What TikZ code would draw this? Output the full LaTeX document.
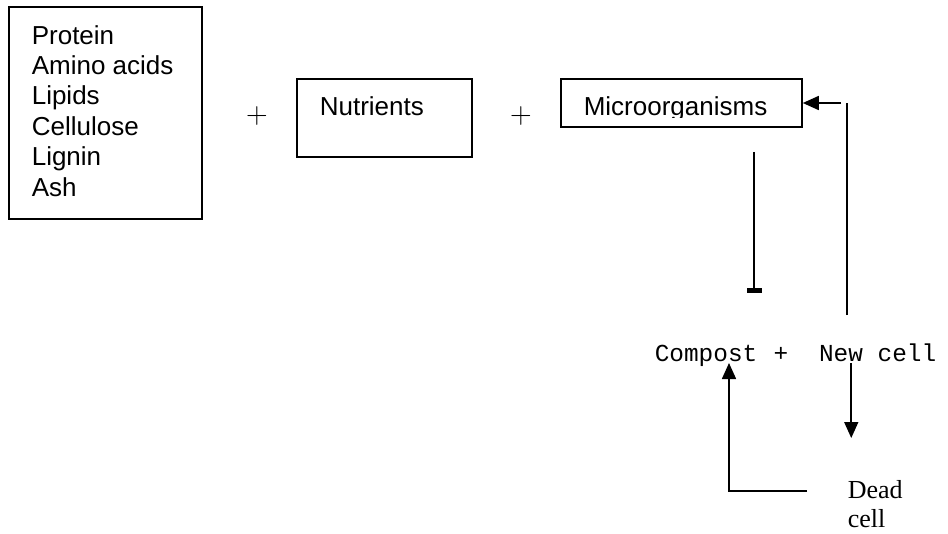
\documentclass[tikz,border=0pt]{standalone}
\usepackage{fontspec}
\newfontfamily\boxfont{Liberation Sans}
\newfontfamily\prodfont{Liberation Mono}
\newfontfamily\cellfont{Liberation Serif}
\usetikzlibrary{arrows.meta,positioning,calc}

\begin{document}
\begin{tikzpicture}[x=1pt,y=-1pt,line width=1.6pt,
    box/.style={draw,inner sep=0pt},
    lbl/.style={inner sep=0pt,align=left,font=\boxfont\fontsize{26}{30.4}\selectfont},
    prod/.style={inner sep=0pt,font=\prodfont\fontsize{24.4}{30}\selectfont},
    arr/.style={-{Triangle[length=16pt,width=14pt]}}]
  \useasboundingbox (0,0) rectangle (948,533);
  % what goes in
  \node[box,minimum width=193pt,minimum height=212pt] (feed) at (105.5,113) {};
  \node[lbl,anchor=north west] (feedtext) at (31,24.5)
    {Protein\\Amino acids\\Lipids\\Cellulose\\Lignin\\Ash};
  \node[inner sep=0pt,font=\fontsize{30}{36}\selectfont] (plusa) at (257,116) {+};
  \node[box,minimum width=175pt,minimum height=78pt] (nutr) at (384.5,118) {};
  \node[lbl,anchor=base west] (nutrtext) at (319,115) {Nutrients};
  \node[inner sep=0pt,font=\fontsize{30}{36}\selectfont] (plusb) at (521,116) {+};
  \node[box,minimum width=241pt,minimum height=48pt] (micro) at (681.5,103) {};
  \begin{scope}
    \clip (561,79) rectangle (802,117);
    \node[lbl,anchor=base west] (microtext) at (583,115) {Microorganisms};
  \end{scope}
  \draw[-{Bar[width=15pt,line width=4.5pt]}] ([xshift=72.5pt,yshift=-24pt]micro.south) -- ++(0,141);

  % what comes out
  \node[prod,anchor=base west] (compost) at (654,361) {Compost};
  \node[prod,base right=14.64pt of compost] (plusc) {+};
  \node[prod,base right=29.28pt of plusc] (newcell) {New cell};
  \node[inner sep=0pt,align=left,anchor=north west,
    font=\cellfont\fontsize{26}{29}\selectfont] (dead) at (847,480) {Dead\\cell};

  % loops
  \coordinate (retbot) at (847,315);
  \draw (retbot) -- (retbot |- micro.east);
  \draw[arr] ($(retbot |- micro.east)+(-6,0)$) -- (micro.east);
  \draw[arr] ($(newcell.base west)+(33,2)$) -- ++(0,75);
  \coordinate (deadend) at (807,491);
  \draw[arr] (deadend) -| ($(compost.base west)+(75,2)$);
\end{tikzpicture}
\end{document}
